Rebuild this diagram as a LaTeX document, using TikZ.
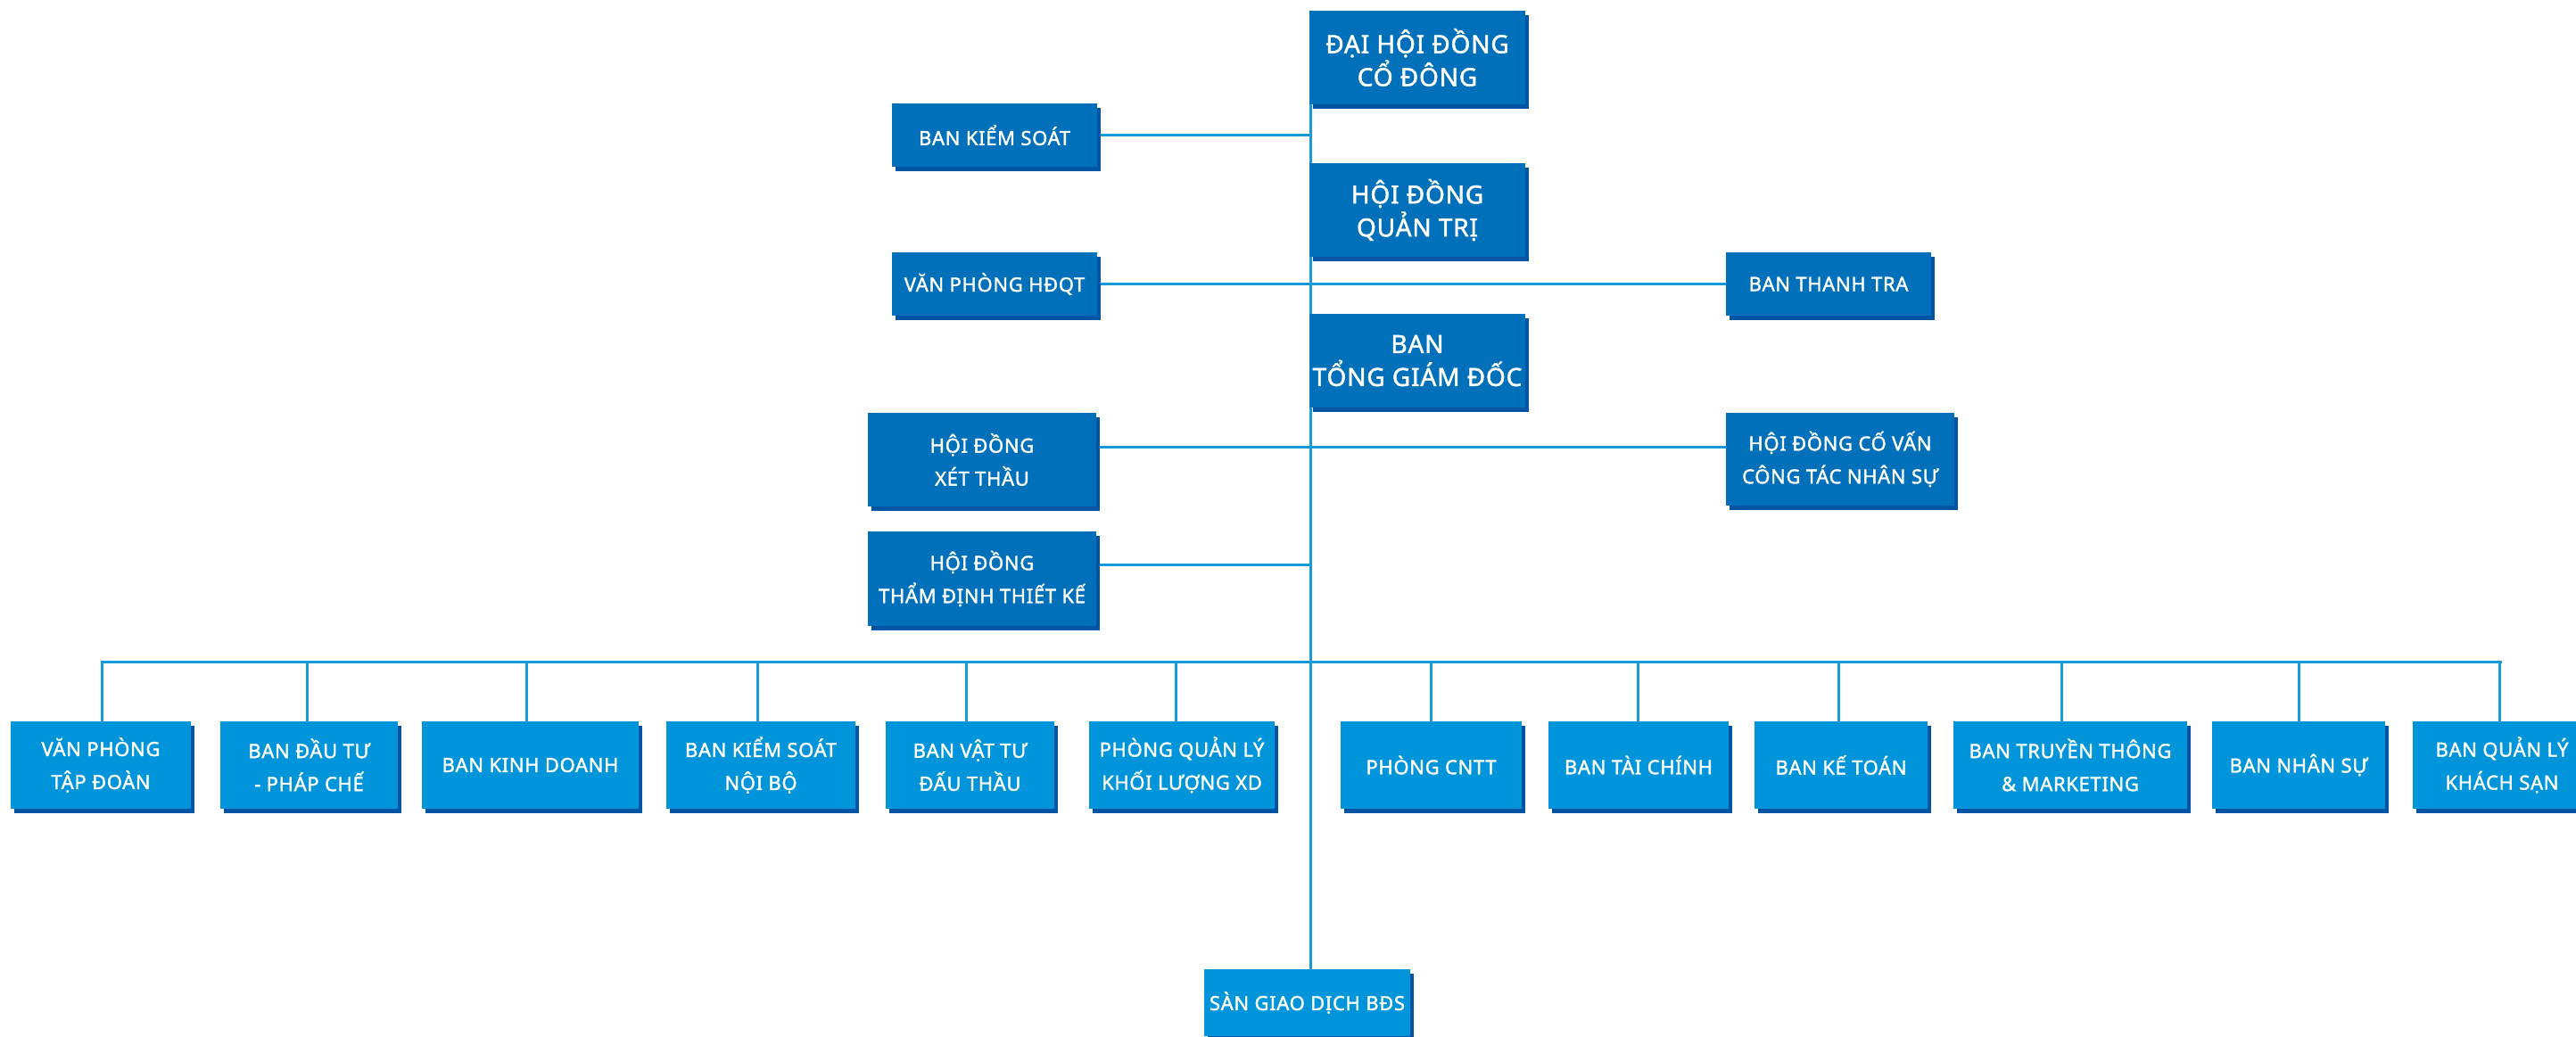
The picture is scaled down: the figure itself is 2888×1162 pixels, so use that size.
\documentclass[tikz,border=0pt]{standalone}
\usepackage{fontspec}
\newfontfamily\lblfont{Noto Sans}[FakeBold=1.6,LetterSpace=3]
\usetikzlibrary{shadows,backgrounds,calc}
\definecolor{darkb}{RGB}{0,112,186}
\definecolor{lightb}{RGB}{0,149,218}
\definecolor{shadowc}{RGB}{0,84,164}
\definecolor{linec}{RGB}{22,155,216}
\tikzset{
  sz/.style 2 args={minimum width=#1pt, minimum height=#2pt},
  box/.style={draw=none, text=white, align=center, inner sep=0pt,
    font=\lblfont\fontsize{22}{37}\selectfont,
    drop shadow={shadow xshift=4pt, shadow yshift=-5pt, fill=shadowc, opacity=1}},
  dark/.style={box, fill=darkb},
  light/.style={box, fill=lightb},
  big/.style={dark, font=\lblfont\fontsize{28}{37}\selectfont},
  conn/.style={draw=linec, line width=3pt}
}
\begin{document}
\begin{tikzpicture}[x=1pt,y=-1pt]
\useasboundingbox (0,0) rectangle (2888,1162);
% top column
\node[big, sz={242}{105}] (dhdcd) at (1589,64.5) {ĐẠI HỘI ĐỒNG\\CỔ ĐÔNG};
\node[big, sz={242}{105}] (hdqt) at (1589,235.5) {HỘI ĐỒNG\\QUẢN TRỊ};
\node[big, sz={242}{105}] (tgd) at (1589,404.5) {BAN\\TỔNG GIÁM ĐỐC};
\node[dark, sz={230}{71}] (bks) at (1115,151.5) {BAN KIỂM SOÁT};
\node[dark, sz={230}{71}] (vphdqt) at (1115,318.5) {VĂN PHÒNG HĐQT};
\node[dark, sz={230}{71}] (btt) at (2050,318.5) {BAN THANH TRA};
\node[dark, sz={256}{105}] (hdxt) at (1101,515.5) {HỘI ĐỒNG\\XÉT THẦU};
\node[dark, sz={256}{106}] (hdtd) at (1101,649) {HỘI ĐỒNG\\THẨM ĐỊNH THIẾT KẾ};
\node[dark, sz={256}{104}] (hdcv) at (2063,515) {HỘI ĐỒNG CỐ VẤN\\CÔNG TÁC NHÂN SỰ};
% bottom row
\node[light, sz={202}{98}] (b1) at (113,858) {VĂN PHÒNG\\TẬP ĐOÀN};
\node[light, sz={199}{98}] (b2) at (346.5,858) {BAN ĐẦU TƯ\\- PHÁP CHẾ};
\node[light, sz={243}{98}] (b3) at (594.5,858) {BAN KINH DOANH};
\node[light, sz={212}{98}] (b4) at (853,858) {BAN KIỂM SOÁT\\NỘI BỘ};
\node[light, sz={189}{98}] (b5) at (1087.5,858) {BAN VẬT TƯ\\ĐẤU THẦU};
\node[light, sz={208}{98}] (b6) at (1325,858) {PHÒNG QUẢN LÝ\\KHỐI LƯỢNG XD};
\node[light, sz={203}{98}] (b7) at (1604.5,858) {PHÒNG CNTT};
\node[light, sz={202}{98}] (b8) at (1837,858) {BAN TÀI CHÍNH};
\node[light, sz={194}{98}] (b9) at (2064,858) {BAN KẾ TOÁN};
\node[light, sz={262}{98}] (b10) at (2321,858) {BAN TRUYỀN THÔNG\\\& MARKETING};
\node[light, sz={194}{98}] (b11) at (2577,858) {BAN NHÂN SỰ};
\node[light, sz={200}{98}] (b12) at (2805,858) {BAN QUẢN LÝ\\KHÁCH SẠN};
\node[light, sz={231}{75}] (san) at (1465.5,1124.5) {SÀN GIAO DỊCH BĐS};
\coordinate (bus) at (0,742);
\begin{scope}[on background layer]
\fill[white] (0,0) rectangle (2888,1162);
\coordinate (spine) at ($(dhdcd.south west)+(1.5,0)$);
\draw[conn] (spine) -- (spine |- san.north);
\draw[conn] (bks.east) -- (bks.east -| spine);
\draw[conn] (vphdqt.east) -- (btt.west);
\draw[conn] ([yshift=14pt]hdxt.east) -- ([yshift=14pt]hdxt.east -| hdcv.west);
\draw[conn] ([yshift=16pt]hdtd.east) -- ([yshift=16pt]hdtd.east -| spine);
\draw[conn] (b1.north |- bus) -- (b12.north |- bus);
\foreach \b/\dx in {b1/1,b2/-2,b3/-4,b4/-4,b5/-4,b6/-7,b7/0,b8/-1,b9/-3,b10/-10,b11/0,b12/-3}
  \draw[conn] ([xshift=\dx pt]\b.north |- bus) -- ([xshift=\dx pt]\b.north);
\end{scope}
\end{tikzpicture}
\end{document}
